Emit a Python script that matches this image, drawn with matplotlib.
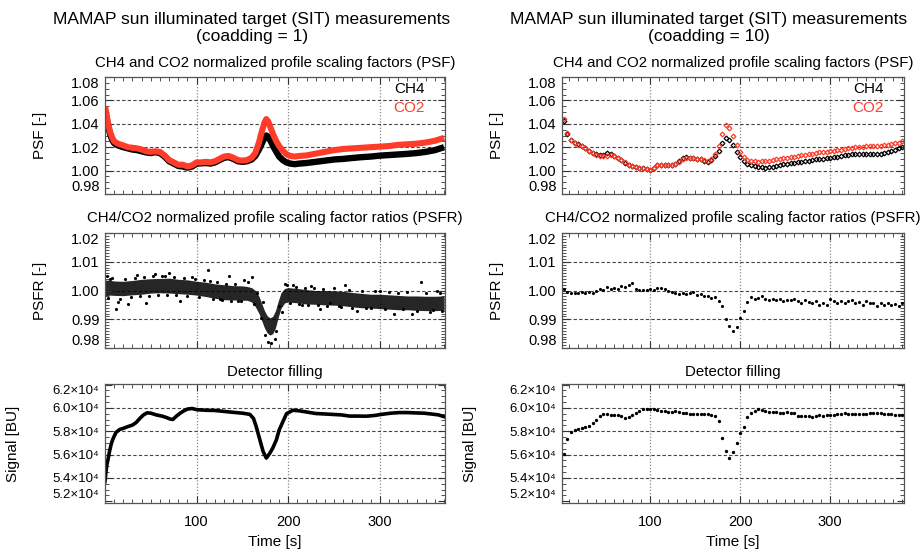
import numpy as np
import matplotlib
matplotlib.use("Agg")
import matplotlib.pyplot as plt
from matplotlib.ticker import MultipleLocator

plt.rcParams['font.family'] = ['Liberation Sans', 'DejaVu Sans']

RED = '#ff3b2a'

# ---------------- coadding = 1 (left column) ----------------
t_psf1 = [0, 2, 4, 6, 8, 10, 13, 16, 20, 25, 30, 35, 40, 45, 50, 55, 60, 65, 70, 75,
          80, 85, 90, 95, 100, 105, 110, 115, 120, 125, 130, 135, 140, 145, 150, 155, 160,
          164, 168, 171, 174, 176, 178, 181, 184, 187, 190, 194, 198, 202, 207, 212,
          220, 230, 240, 250, 260, 270, 280, 290, 300, 310, 320, 330, 340, 350, 360, 366, 370]
co2_psf1 = [1.055, 1.046, 1.038, 1.032, 1.028, 1.025, 1.0235, 1.0225, 1.0215,
            1.020, 1.0195, 1.019, 1.018, 1.0165, 1.016, 1.0165, 1.016, 1.013, 1.009,
            1.007, 1.005, 1.005, 1.0035, 1.0045, 1.007, 1.007, 1.0075, 1.007, 1.008,
            1.010, 1.012, 1.0125, 1.011, 1.009, 1.0085, 1.009, 1.011,
            1.015, 1.024, 1.033, 1.041, 1.044, 1.042,
            1.036, 1.030, 1.025, 1.021, 1.017, 1.014,
            1.0125, 1.012, 1.0125,
            1.013, 1.0145, 1.016, 1.0175, 1.0185, 1.019, 1.0195, 1.020, 1.0205, 1.021,
            1.022, 1.0225, 1.023, 1.024, 1.0255, 1.027, 1.028]
ch4_psf1 = [1.052, 1.044, 1.036, 1.030, 1.026, 1.0235, 1.022, 1.021, 1.020,
            1.019, 1.018, 1.0175, 1.0165, 1.0155, 1.015, 1.0158, 1.015, 1.012, 1.008,
            1.006, 1.004, 1.0035, 1.0025, 1.0035, 1.006, 1.0062, 1.0065, 1.006, 1.007,
            1.009, 1.011, 1.0115, 1.010, 1.008, 1.0075, 1.008, 1.0095,
            1.0125, 1.018, 1.023, 1.028, 1.030, 1.029,
            1.025, 1.020, 1.016, 1.012, 1.009, 1.007,
            1.006, 1.0055, 1.006,
            1.0065, 1.0075, 1.0085, 1.0095, 1.010, 1.0108, 1.0115, 1.012, 1.0128, 1.0133,
            1.0138, 1.0143, 1.015, 1.016, 1.0175, 1.019, 1.020]

t_psfr1 = [0, 5, 10, 20, 30, 40, 50, 60, 70, 80, 90, 100, 110, 120, 130, 140, 150, 155,
           160, 164, 168, 171, 174, 177, 180, 183, 186, 189, 192, 196, 200, 210, 220,
           230, 240, 250, 260, 270, 280, 290, 300, 310, 320, 330, 340, 350, 360, 370]
psfr1_mid = [1.0008, 1.0010, 1.0008, 1.0007, 1.0010, 1.0013, 1.0016, 1.0017, 1.0017, 1.0014,
             1.0012, 1.0008, 1.0004, 0.9998, 0.9994, 0.9992, 0.9991, 0.9990, 0.9985, 0.9972,
             0.9950, 0.9925, 0.9900, 0.9882, 0.9875, 0.9880, 0.9900, 0.9935, 0.9965, 0.9982,
             0.9985, 0.9982, 0.9978, 0.9976, 0.9975, 0.9974, 0.9972, 0.9968, 0.9965, 0.9963,
             0.9962, 0.9960, 0.9958, 0.9957, 0.9956, 0.9955, 0.9955, 0.9956]
psfr1_half = [0.0028, 0.0026, 0.0025, 0.0025, 0.0025, 0.0026, 0.0025, 0.0025, 0.0026, 0.0025,
              0.0025, 0.0024, 0.0025, 0.0025, 0.0026, 0.0025, 0.0025, 0.0024, 0.0025, 0.0028,
              0.0030, 0.0030, 0.0030, 0.0030, 0.0030, 0.0030, 0.0030, 0.0028, 0.0027, 0.0025,
              0.0025, 0.0025, 0.0025, 0.0024, 0.0025, 0.0025, 0.0025, 0.0025, 0.0025, 0.0024,
              0.0025, 0.0025, 0.0025, 0.0024, 0.0025, 0.0025, 0.0025, 0.0025]
# scattered outliers of the ratio cloud
t_psfr1_out = [2, 5, 12, 14, 25, 35, 45, 55, 62, 70, 82, 95, 108, 112, 125, 135, 145, 152,
               160, 175, 178, 181, 185, 190, 196, 205, 215, 225, 235, 245, 255, 262, 275,
               290, 300, 315, 325, 335, 345, 355, 362, 368]
psfr1_out = [1.005, 1.004, 0.9937, 0.996, 0.9953, 1.0055, 0.9958, 1.0058, 1.0052, 1.006,
             0.9965, 1.0048, 1.0035, 1.0073, 0.997, 1.0052, 0.9965, 1.0038, 1.0047, 0.9845,
             0.9822, 0.9818, 0.983, 0.9945, 1.0022, 1.0018, 0.9948, 1.0015, 0.9935, 0.9955,
             0.9945, 1.0018, 0.993, 0.9938, 1.000, 0.992, 0.9935, 0.992, 1.003, 0.9925,
             1.000, 0.993]
# points just outside the dense core
t_psfr1_edge = [3, 8, 16, 22, 28, 33, 38, 43, 48, 52, 58, 65, 68, 75, 78, 86, 90, 98, 103,
                115, 118, 122, 128, 132, 138, 142, 148, 156, 163, 166, 170, 172, 187, 193,
                199, 202, 208, 212, 218, 222, 228, 232, 238, 242, 250, 258, 266, 270, 280,
                285, 295, 305, 310, 320, 330, 340, 350, 358, 365]
psfr1_edge = [0.9975, 1.0042, 0.9972, 1.0040, 0.9976, 1.0045, 0.9980, 1.0048, 0.9982, 1.0050,
              0.9984, 1.0049, 0.9983, 1.0047, 0.9985, 1.0044, 0.9980, 1.0040, 0.9978, 1.0032,
              0.9970, 1.0028, 0.9966, 1.0024, 0.9964, 1.0022, 0.9962, 1.0030, 0.9952, 0.9990,
              0.9905, 0.9960, 0.9860, 0.9925, 1.0018, 0.9955, 1.0012, 0.9952, 1.0010, 0.9950,
              1.0008, 0.9948, 1.0006, 0.9946, 1.0008, 0.9944, 1.0002, 0.9940, 0.9998, 0.9938,
              0.9998, 0.9934, 0.9994, 0.9992, 0.9995, 0.9930, 0.9990, 0.9932, 0.9992]

t_sig1 = [0, 1, 2, 3.3, 5, 7, 9, 12, 16, 20, 25, 30, 34, 38, 42, 46, 50, 56, 62, 67,
          71, 74, 78, 82, 86, 90, 95, 100, 110, 120, 130, 140, 150, 158, 162, 165, 169,
          172.5, 176, 179.7, 183, 187, 190, 194, 198, 205, 212, 220, 230, 240, 249, 258,
          267, 276, 285, 294, 303, 312, 321, 330, 339, 348, 358, 364, 370]
sig1 = [53700, 54500, 55100, 55600, 56300, 56970, 57400, 57900, 58150, 58250,
        58400, 58530, 58750, 59100, 59400, 59580, 59550, 59400, 59300, 59180,
        59050, 59010, 59300, 59550, 59750, 59900, 59950, 59850, 59800, 59780,
        59700, 59620, 59550, 59450, 59100, 58400, 57260, 56270, 55700, 56100,
        56550, 57260, 58100, 58800, 59500, 59800, 59750, 59650, 59520, 59480,
        59440, 59400, 59300, 59300, 59290, 59350, 59460, 59550, 59600, 59600,
        59570, 59550, 59460, 59400, 59250]

# ---------------- coadding = 10 (right column), one value every 4 s ----------------
t10 = np.arange(4, 381, 4)
co2_psf10 = [1.044, 1.032, 1.026, 1.0235, 1.022, 1.021, 1.019, 1.017, 1.015, 1.0135,
             1.0125, 1.0125, 1.0128, 1.013, 1.0125, 1.011, 1.009, 1.007, 1.005, 1.0038,
             1.0032, 1.0025, 1.002, 1.001, 1.0003, 1.0025, 1.0045, 1.005, 1.005, 1.005,
             1.0052, 1.0055, 1.0075, 1.010, 1.011, 1.0105, 1.0105, 1.010, 1.0098, 1.009,
             1.008, 1.0095, 1.014, 1.021, 1.031, 1.039, 1.0365, 1.030, 1.022, 1.016,
             1.012, 1.009, 1.008, 1.0078, 1.0075, 1.008, 1.008, 1.0085, 1.009, 1.0095,
             1.010, 1.0105, 1.011, 1.0115, 1.012, 1.0125, 1.013, 1.0135, 1.014, 1.0145,
             1.015, 1.0155, 1.016, 1.0163, 1.0167, 1.017, 1.0175, 1.018, 1.0185, 1.019,
             1.0195, 1.020, 1.0203, 1.0205, 1.0207, 1.021, 1.021, 1.0208, 1.021, 1.0215,
             1.022, 1.0225, 1.0235, 1.024, 1.025]
ch4_psf10 = [1.042, 1.031, 1.026, 1.0235, 1.0225, 1.021, 1.019, 1.0168, 1.015, 1.0138,
             1.013, 1.0135, 1.015, 1.0145, 1.0128, 1.011, 1.009, 1.0065, 1.005, 1.004,
             1.0033, 1.0025, 1.0018, 1.001, 1.0002, 1.0025, 1.0045, 1.0048, 1.005, 1.005,
             1.005, 1.0055, 1.008, 1.0105, 1.0112, 1.011, 1.0105, 1.0098, 1.0095, 1.0085,
             1.0075, 1.009, 1.0125, 1.017, 1.024, 1.028, 1.0265, 1.022, 1.016, 1.0115,
             1.008, 1.006, 1.0048, 1.004, 1.0035, 1.003, 1.0025, 1.0028, 1.0035, 1.004,
             1.0048, 1.0055, 1.006, 1.0062, 1.0066, 1.007, 1.0075, 1.008, 1.0085, 1.009,
             1.0095, 1.010, 1.0103, 1.0107, 1.011, 1.0115, 1.012, 1.0125, 1.013, 1.0135,
             1.014, 1.0142, 1.0143, 1.0142, 1.014, 1.0143, 1.0145, 1.014, 1.0145, 1.015,
             1.016, 1.017, 1.018, 1.019, 1.020]
psfr10 = [1.0004, 0.9994, 0.9992, 0.9993, 0.9992, 0.9994, 0.9993, 0.9996, 0.9993, 0.9998,
          1.0005, 1.0002, 1.0012, 1.0006, 1.0010, 1.0004, 1.0016, 1.0011, 1.0020, 1.0027,
          1.0004, 1.0001, 1.0002, 1.0003, 1.0004, 1.0001, 1.0007, 1.0010, 1.0004, 0.9998,
          0.9994, 0.9991, 0.9988, 0.9992, 0.9987, 0.9990, 0.9994, 0.9985, 0.9989, 0.9980,
          0.9982, 0.9975, 0.9978, 0.9962, 0.9945, 0.9900, 0.9875, 0.9858, 0.9872, 0.9905,
          0.9930, 0.9960, 0.9978, 0.9972, 0.9975, 0.9980, 0.9970, 0.9967, 0.9972, 0.9966,
          0.9970, 0.9962, 0.9968, 0.9966, 0.9972, 0.9965, 0.9958, 0.9966, 0.9960, 0.9955,
          0.9962, 0.9950, 0.9957, 0.9948, 0.9972, 0.9962, 0.9955, 0.9965, 0.9958, 0.9962,
          0.9966, 0.9955, 0.9960, 0.9950, 0.9962, 0.9955, 0.9958, 0.9946, 0.9955, 0.9950,
          0.9956, 0.9948, 0.9953, 0.9945, 0.9955]
sig10 = [56050, 57300, 57900, 58080, 58150, 58300, 58380, 58450, 58700, 59000,
         59300, 59450, 59500, 59400, 59350, 59380, 59300, 59150, 59200, 59350,
         59550, 59750, 59880, 59900, 59880, 59920, 59800, 59720, 59700, 59650,
         59680, 59700, 59620, 59600, 59560, 59520, 59500, 59520, 59470, 59450,
         59440, 59400, 59330, 58900, 57400, 56300, 55700, 56200, 57000, 57850,
         58400, 59200, 59550, 59720, 59880, 59850, 59700, 59650, 59680, 59620,
         59600, 59580, 59620, 59560, 59580, 59300, 59320, 59280, 59320, 59250,
         59300, 59350, 59300, 59380, 59420, 59380, 59450, 59500, 59600, 59520,
         59480, 59440, 59450, 59480, 59520, 59550, 59580, 59600, 59560, 59520,
         59480, 59460, 59420, 59380, 59350]

psf_ticks = [0.98, 1.00, 1.02, 1.04, 1.06, 1.08]
psfr_ticks = [0.98, 0.99, 1.00, 1.01, 1.02]
sig_ticks = [52000, 54000, 56000, 58000, 60000, 62000]
sig_labels = ['%.1f\u00d710\u2074' % (v / 1e4) for v in sig_ticks]

W, H = 922, 555
fig = plt.figure(figsize=(W / 100, H / 100), dpi=100)


def px_axes(x0, y0, x1, y1):
    return fig.add_axes([x0 / W, 1 - y1 / H, (x1 - x0) / W, (y1 - y0) / H])


def style(ax, xlim, ylim, yticks, ylabels, yminor, bottom, lsize=10.5):
    ax.set_xlim(xlim)
    ax.set_ylim(ylim)
    ax.set_xticks([100, 200, 300])
    ax.xaxis.set_minor_locator(MultipleLocator(10))
    ax.set_yticks(yticks)
    ax.set_yticklabels(ylabels)
    ax.yaxis.set_minor_locator(MultipleLocator(yminor))
    ax.tick_params(which='both', direction='in', top=True, right=True,
                   labelsize=10.5, color='#333333')
    ax.tick_params(axis='y', labelsize=lsize, pad=4)
    ax.tick_params(which='major', length=5, width=0.8)
    ax.tick_params(which='minor', length=3, width=0.6)
    ax.tick_params(axis='x', pad=9, labelbottom=bottom)
    for s in ax.spines.values():
        s.set_color('#555555')
        s.set_linewidth(0.9)
    for v in [100, 200, 300]:
        ax.axvline(v, color='#888888', ls=(0, (1, 1.5)), lw=0.9, zorder=0)
    for v in yticks[1:-1]:
        ax.axhline(v, color='#444444', ls=(0, (3, 2)), lw=0.8, zorder=0)
    labs = ax.get_yticklabels()
    labs[0].set_verticalalignment('bottom')
    labs[-1].set_verticalalignment('top')


cols = [(105, 445, (0, 371)), (562, 904, (2, 382))]
rows = [(77, 194), (233, 348), (384, 503)]

axes = []
for (x0, x1, xl) in cols:
    colax = []
    for (y0, y1) in rows:
        colax.append(px_axes(x0, y0, x1, y1))
    axes.append(colax)

# ---- left column
a1, a2, a3 = axes[0]
a1.plot(t_psf1, ch4_psf1, color='k', lw=4.6, solid_capstyle='butt')
a1.plot(t_psf1, co2_psf1, color=RED, lw=4.4, solid_capstyle='butt')
a2.fill_between(t_psfr1, np.array(psfr1_mid) - np.array(psfr1_half),
                np.array(psfr1_mid) + np.array(psfr1_half), color='k', alpha=0.85, lw=0)
a2.plot(t_psfr1_edge, psfr1_edge, 'k.', ms=2.5)
a2.plot(t_psfr1_out, psfr1_out, 'k.', ms=2.5)
a3.plot(t_sig1, sig1, color='k', lw=2.6)

# ---- right column
b1, b2, b3 = axes[1]
b1.plot(t10, ch4_psf10, 'kD', ms=2.4, mfc='none', mew=0.9)
b1.plot(t10, co2_psf10, 'D', color=RED, ms=2.4, mfc='none', mew=0.9)
b2.plot(t10, psfr10, 'k.', ms=2.5)
b3.plot(t10, sig10, 'k.', ms=2.8)

for ci, (x0, x1, xl) in enumerate(cols):
    p, q, r = axes[ci]
    style(p, xl, (0.98, 1.08), psf_ticks, ['%.2f' % v for v in psf_ticks], 0.005, False)
    style(q, xl, (0.98, 1.02), psfr_ticks, ['%.2f' % v for v in psfr_ticks], 0.001, False)
    style(r, xl, (51850, 62050), sig_ticks, sig_labels, 500, True, lsize=9.5)
    p.set_ylabel('PSF [-]', fontsize=11)
    q.set_ylabel('PSFR [-]', fontsize=11)
    r.set_ylabel('Signal [BU]', fontsize=11)
    p.yaxis.set_label_coords(-0.17, 0.5)
    q.yaxis.set_label_coords(-0.17, 0.5)
    r.yaxis.set_label_coords(-0.25, 0.5)
    r.set_xlabel('Time [s]', fontsize=11, labelpad=4)
    p.text(0.94, 0.90, 'CH4', transform=p.transAxes, ha='right', va='center',
           fontsize=11, color='k')
    p.text(0.94, 0.735, 'CO2', transform=p.transAxes, ha='right', va='center',
           fontsize=11, color=RED)
    xc = (x0 + x1) / 2
    fig.text(xc / W, 1 - 63 / H, 'CH4 and CO2 normalized profile scaling factors (PSF)',
             ha='center', va='center', fontsize=10.8)
    fig.text(xc / W, 1 - 218 / H, 'CH4/CO2 normalized profile scaling factor ratios (PSFR)',
             ha='center', va='center', fontsize=10.8)
    fig.text(xc / W, 1 - 372 / H, 'Detector filling', ha='center', va='center',
             fontsize=10.8)

fig.text(252 / W, 1 - 28 / H,
         'MAMAP sun illuminated target (SIT) measurements\n(coadding = 1)',
         ha='center', va='center', fontsize=12.5, linespacing=1.1)
fig.text(709 / W, 1 - 28 / H,
         'MAMAP sun illuminated target (SIT) measurements\n(coadding = 10)',
         ha='center', va='center', fontsize=12.5, linespacing=1.1)

fig.savefig('out.png', dpi=100)
